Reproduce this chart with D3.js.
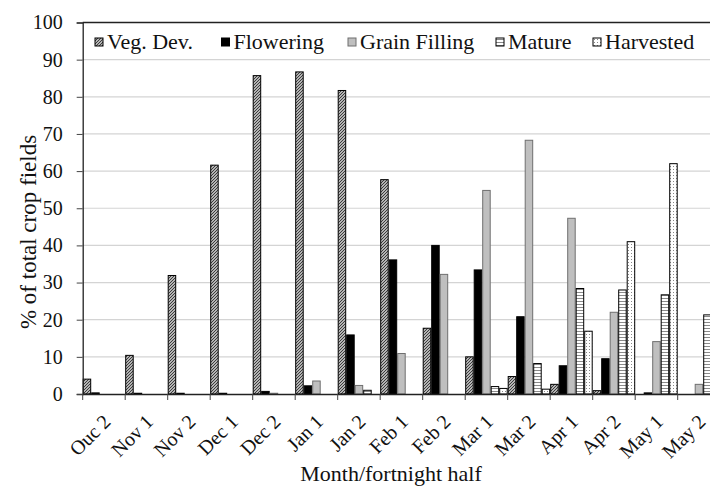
<!DOCTYPE html>
<html>
<head>
<meta charset="utf-8">
<script src="https://cdn.jsdelivr.net/npm/d3@7"></script>
<style>
  body { margin: 0; background: #fff; }
  svg text { font-family: "Liberation Serif", "Times New Roman", Times, "DejaVu Serif", serif; fill: #111; }
</style>
</head>
<body>
<div id="chart"></div>
<script>
// categories (fortnights) and series
let categories = ["Ouc 2", "Nov 1", "Nov 2", "Dec 1", "Dec 2", "Jan 1", "Jan 2", "Feb 1",
                  "Feb 2", "Mar 1", "Mar 2", "Apr 1", "Apr 2", "May 1", "May 2"]
let seriesNames = ["Veg. Dev.", "Flowering", "Grain Filling", "Mature", "Harvested"]

let vegDev      = [4.0, 10.4, 31.9, 61.6, 85.7, 86.7, 81.7, 57.7, 17.7, 10.0, 4.7, 2.6, 0.9, 0, 0]
let flowering   = [0.3, 0.2, 0.2, 0.2, 0.7, 2.2, 15.9, 36.1, 40.0, 33.4, 20.8, 7.6, 9.5, 0.3, 0]
let grainFill   = [0, 0, 0, 0, 0.2, 3.5, 2.3, 10.9, 32.2, 54.8, 68.3, 47.3, 22.0, 14.1, 2.6]
let mature      = [0, 0, 0, 0, 0, 0, 1.0, 0, 0, 2.0, 8.2, 28.4, 28.0, 26.7, 21.3]
let harvested   = [0, 0, 0, 0, 0, 0, 0, 0, 0, 1.5, 1.3, 16.9, 41.0, 62.0, 76.0]

let yTicks = [0, 10, 20, 30, 40, 50, 60, 70, 80, 90, 100]

let seriesValues = [vegDev, flowering, grainFill, mature, harvested]
let fills = ["url(#pVeg)", "#000", "#bfbfbf", "url(#pMature)", "url(#pHarv)"]
let strokes = ["#000", "#000", "#6f6f6f", "#000", "#000"]

let serif = "'Liberation Serif', 'Times New Roman', Times, 'DejaVu Serif', serif"

let W = 710, H = 488
let margin = {top: 22.5, left: 82.7, bottom: 94}
let bandW = 42.5
let plotH = H - margin.top - margin.bottom

let svg = d3.select("#chart").append("svg")
  .attr("width", W).attr("height", H)
  .attr("font-family", serif)

// PATTERNS
let defs = svg.append("defs")
let pv = defs.append("pattern").attr("id", "pVeg")
  .attr("patternUnits", "userSpaceOnUse").attr("width", 3).attr("height", 3)
pv.append("rect").attr("width", 3).attr("height", 3).attr("fill", "#e8e8e8")
pv.append("path").attr("d", "M-1,1 L1,-1 M0,3 L3,0 M2,4 L4,2")
  .attr("stroke", "#333").attr("stroke-width", 1.1)

let pm = defs.append("pattern").attr("id", "pMature")
  .attr("patternUnits", "userSpaceOnUse").attr("width", 4).attr("height", 3)
pm.append("rect").attr("width", 4).attr("height", 3).attr("fill", "#fff")
pm.append("rect").attr("y", 1).attr("width", 4).attr("height", 1).attr("fill", "#8a8a8a")

let ph = defs.append("pattern").attr("id", "pHarv")
  .attr("patternUnits", "userSpaceOnUse").attr("width", 3).attr("height", 3)
ph.append("rect").attr("width", 3).attr("height", 3).attr("fill", "#fff")
ph.append("rect").attr("x", 1).attr("y", 1).attr("width", 1).attr("height", 1).attr("fill", "#888")

// SCALES
let xScale = d3.scaleBand()
  .domain(categories)
  .range([margin.left, margin.left + bandW * categories.length])
  .padding(0)

let xInner = d3.scaleBand()
  .domain(seriesNames)
  .range([0, xScale.bandwidth()])
  .padding(0)

let yScale = d3.scaleLinear()
  .domain([0, 100])
  .range([margin.top + plotH, margin.top])

let x0 = margin.left, x1 = margin.left + bandW * categories.length

// GRIDLINES
svg.append("g").selectAll("line")
  .data(yTicks.filter(d => d > 0 && d < 100))
  .join("line")
  .attr("x1", x0).attr("x2", x1)
  .attr("y1", d => yScale(d)).attr("y2", d => yScale(d))
  .attr("stroke", "#d4d4d4").attr("stroke-width", 1.2)

// top border
svg.append("line")
  .attr("x1", x0).attr("x2", x1)
  .attr("y1", yScale(100)).attr("y2", yScale(100))
  .attr("stroke", "#222").attr("stroke-width", 1.3)

// BARS
let groups = svg.append("g").selectAll("g")
  .data(seriesNames)
  .join("g")

groups.selectAll("rect")
  .data((s, i) => seriesValues[i].map((v, j) => ({s: s, i: i, cat: categories[j], v: v})).filter(d => d.v > 0))
  .join("rect")
  .attr("x", d => xScale(d.cat) + xInner(d.s) + 0.5)
  .attr("width", xInner.bandwidth() - 1)
  .attr("y", d => yScale(d.v))
  .attr("height", d => yScale(0) - yScale(d.v))
  .attr("fill", d => fills[d.i])
  .attr("stroke", d => strokes[d.i])
  .attr("stroke-width", 1)

// AXES
let yAxis = d3.axisLeft(yScale).tickValues(yTicks).tickSize(6).tickPadding(14)
let yG = svg.append("g")
  .attr("transform", "translate(" + x0 + ",0)")
  .call(yAxis)
  .attr("font-family", serif)
yG.select(".domain").attr("stroke", "#222").attr("stroke-width", 1.3)
yG.selectAll(".tick line").attr("stroke", "#444")
yG.selectAll("text").style("font-size", "20px").attr("fill", "#111")

let xAxis = d3.axisBottom(xScale).tickSize(0).tickFormat("")
let xG = svg.append("g")
  .attr("transform", "translate(0," + yScale(0) + ")")
  .call(xAxis)
xG.select(".domain").attr("stroke", "#222").attr("stroke-width", 1.3)

// category boundary ticks
svg.append("g").selectAll("line")
  .data(categories)
  .join("line")
  .attr("x1", d => xScale(d)).attr("x2", d => xScale(d))
  .attr("y1", yScale(0)).attr("y2", yScale(0) + 6)
  .attr("stroke", "#444")

// rotated category labels
svg.append("g").selectAll("text")
  .data(categories)
  .join("text")
  .attr("transform", d => "translate(" + (xScale(d) + xScale.bandwidth() / 2 + 3) + "," + (yScale(0) + 24) + ") rotate(-45)")
  .attr("text-anchor", "end")
  .attr("dy", "0.35em")
  .style("font-size", "20px")
  .text(d => d)

// AXIS TITLES
svg.append("text")
  .attr("x", 391).attr("y", 481)
  .attr("text-anchor", "middle")
  .style("font-size", "22px")
  .text("Month/fortnight half")

svg.append("text")
  .attr("transform", "translate(36,232) rotate(-90)")
  .attr("text-anchor", "middle")
  .style("font-size", "23px")
  .text("% of total crop fields")

// LEGEND
let legendX = [95, 221.5, 348, 496, 593]
let leg = svg.append("g").selectAll("g")
  .data(seriesNames)
  .join("g")
  .attr("transform", (d, i) => "translate(" + legendX[i] + ",38)")
leg.append("rect")
  .attr("width", 8).attr("height", 8)
  .attr("fill", (d, i) => fills[i])
  .attr("stroke", (d, i) => strokes[i])
leg.append("text")
  .attr("x", 12).attr("y", 11)
  .style("font-size", "22px")
  .text(d => d)
</script>
</body>
</html>
